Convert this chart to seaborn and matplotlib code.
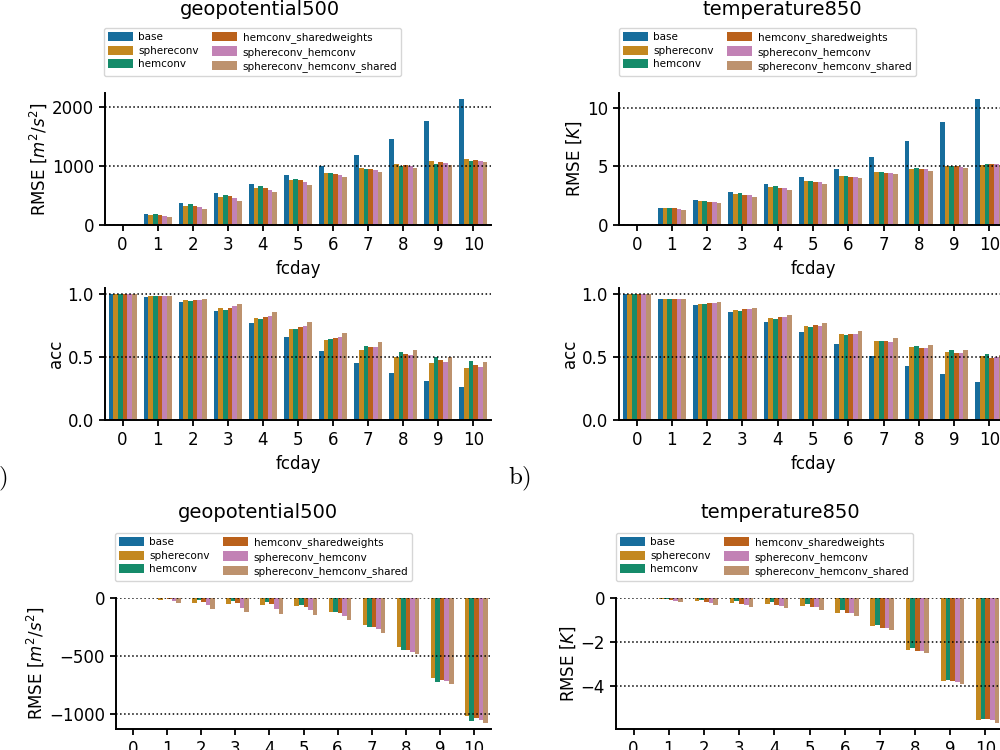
import numpy as np
import pandas as pd
import seaborn as sns
import matplotlib.pyplot as plt
from matplotlib.ticker import MultipleLocator

models = ["base", "sphereconv", "hemconv", "hemconv_sharedweights",
          "sphereconv_hemconv", "sphereconv_hemconv_shared"]
fcday = [0, 1, 2, 3, 4, 5, 6, 7, 8, 9, 10]

# one row per model (same order as `models`), one column per fcday
z500_rmse = [
    [0, 189, 366, 537, 697, 840, 1000, 1194, 1451, 1760, 2131],
    [0, 166, 326, 480, 634, 771, 874, 960, 1029, 1080, 1114],
    [0, 183, 349, 514, 663, 783, 874, 949, 1000, 1040, 1080],
    [0, 171, 326, 491, 634, 771, 869, 949, 1011, 1063, 1109],
    [0, 149, 297, 451, 600, 731, 840, 931, 994, 1046, 1091],
    [0, 137, 274, 411, 560, 686, 806, 897, 971, 1023, 1069],
]
z500_acc = [
    [1.0, 0.981, 0.939, 0.864, 0.768, 0.664, 0.549, 0.451, 0.373, 0.312, 0.259],
    [1.0, 0.984, 0.952, 0.891, 0.811, 0.720, 0.635, 0.560, 0.501, 0.453, 0.413],
    [1.0, 0.984, 0.944, 0.877, 0.800, 0.720, 0.648, 0.587, 0.539, 0.501, 0.469],
    [1.0, 0.984, 0.952, 0.893, 0.816, 0.736, 0.656, 0.584, 0.525, 0.477, 0.437],
    [1.0, 0.987, 0.957, 0.904, 0.829, 0.744, 0.659, 0.581, 0.515, 0.464, 0.424],
    [1.0, 0.987, 0.965, 0.923, 0.859, 0.779, 0.696, 0.621, 0.557, 0.504, 0.461],
]
t850_rmse = [
    [0, 1.49, 2.16, 2.84, 3.48, 4.11, 4.80, 5.80, 7.13, 8.76, 10.72],
    [0, 1.41, 2.01, 2.61, 3.22, 3.71, 4.14, 4.48, 4.77, 5.00, 5.14],
    [0, 1.47, 2.07, 2.70, 3.30, 3.79, 4.20, 4.54, 4.83, 5.00, 5.20],
    [0, 1.41, 1.98, 2.59, 3.16, 3.65, 4.11, 4.43, 4.74, 5.00, 5.23],
    [0, 1.38, 1.95, 2.56, 3.13, 3.65, 4.11, 4.45, 4.74, 4.97, 5.18],
    [0, 1.32, 1.87, 2.41, 3.02, 3.51, 3.97, 4.31, 4.63, 4.86, 5.10],
]
t850_acc = [
    [1.0, 0.960, 0.917, 0.856, 0.781, 0.699, 0.603, 0.509, 0.432, 0.365, 0.304],
    [1.0, 0.960, 0.925, 0.875, 0.811, 0.744, 0.683, 0.627, 0.581, 0.541, 0.507],
    [1.0, 0.960, 0.920, 0.867, 0.803, 0.736, 0.680, 0.627, 0.589, 0.557, 0.528],
    [1.0, 0.960, 0.928, 0.880, 0.819, 0.752, 0.685, 0.627, 0.576, 0.533, 0.496],
    [1.0, 0.963, 0.931, 0.880, 0.819, 0.749, 0.685, 0.624, 0.576, 0.533, 0.500],
    [1.0, 0.965, 0.939, 0.893, 0.837, 0.773, 0.709, 0.651, 0.597, 0.557, 0.520],
]
# RMSE difference to base
z500_diff = [
    [0, 0, 0, 0, 0, 0, 0, 0, 0, 0, 0],
    [0, -17, -40, -55, -57, -72, -118, -233, -425, -687, -1020],
    [0, -3, -14, -29, -34, -60, -121, -250, -451, -721, -1063],
    [0, -11, -34, -46, -55, -75, -129, -247, -445, -704, -1032],
    [0, -29, -63, -83, -92, -106, -155, -270, -463, -713, -1052],
    [0, -43, -95, -124, -138, -147, -193, -299, -480, -744, -1075],
]
t850_diff = [
    [0, 0, 0, 0, 0, 0, 0, 0, 0, 0, 0],
    [0, -0.06, -0.15, -0.21, -0.27, -0.37, -0.66, -1.28, -2.34, -3.77, -5.54],
    [0, -0.03, -0.08, -0.12, -0.18, -0.27, -0.56, -1.22, -2.27, -3.73, -5.48],
    [0, -0.08, -0.18, -0.26, -0.32, -0.41, -0.70, -1.34, -2.40, -3.77, -5.48],
    [0, -0.12, -0.23, -0.31, -0.34, -0.41, -0.70, -1.34, -2.38, -3.79, -5.54],
    [0, -0.17, -0.31, -0.41, -0.47, -0.56, -0.82, -1.45, -2.47, -3.91, -5.65],
]

W, H = 1000, 750
fig = plt.figure(figsize=(10, 7.5), dpi=100)


def to_long(values):
    rows = []
    for m, vals in zip(models, values):
        for d, v in zip(fcday, vals):
            rows.append({"fcday": d, "model": m, "value": v})
    return pd.DataFrame(rows)


def px_axes(left, top, width, bottom):
    # pixel box -> figure fraction
    return fig.add_axes([left / W, 1 - bottom / H, width / W, (bottom - top) / H])


def draw(ax, values, ylabel, step, legend_xy=None):
    sns.barplot(data=to_long(values), x="fcday", y="value", hue="model",
                hue_order=models, palette="colorblind", ax=ax, linewidth=0,
                legend=legend_xy is not None)
    ax.yaxis.set_major_locator(MultipleLocator(step))
    ax.grid(axis="y", ls=":", color="k", lw=1.1)
    ax.set_ylabel(ylabel, fontsize=12, labelpad=2)
    ax.set_xlabel("fcday", fontsize=12)
    ax.tick_params(labelsize=12, length=4.5, width=1.3)
    for s in ["left", "bottom"]:
        ax.spines[s].set_linewidth(1.4)
    sns.despine(ax=ax)
    if legend_xy is not None:
        leg = ax.get_legend()
        handles = leg.legend_handles
        leg.remove()
        ax.legend(handles, models, ncol=2, loc="upper left",
                  bbox_to_anchor=(legend_xy[0] / W, 1 - legend_xy[1] / H),
                  bbox_transform=fig.transFigure, borderaxespad=0,
                  fontsize=7.5, handlelength=2.4, handleheight=1.0,
                  handletextpad=0.5, columnspacing=1.3, labelspacing=0.3)


rmse_z = r"RMSE [$m^2/s^2$]"
rmse_t = r"RMSE [$K$]"

# a) top-left
ax = px_axes(105, 93, 386, 225)
draw(ax, z500_rmse, rmse_z, 1000, legend_xy=(104, 28))
ax = px_axes(105, 288, 386, 420)
draw(ax, z500_acc, "acc", 0.5)

# b) top-right
ax = px_axes(619, 93, 388, 225)
draw(ax, t850_rmse, rmse_t, 5, legend_xy=(619, 28))
ax = px_axes(619, 288, 388, 420)
draw(ax, t850_acc, "acc", 0.5)

# bottom row: difference to base
ax = px_axes(116, 598, 375, 729)
draw(ax, z500_diff, rmse_z, 500, legend_xy=(115, 533))
ax = px_axes(616, 598, 387, 729)
draw(ax, t850_diff, rmse_t, 2, legend_xy=(616, 533))

titles = [("geopotential500", 260, 15), ("temperature850", 782, 15),
          ("geopotential500", 258, 518), ("temperature850", 780, 518)]
for txt, x, y in titles:
    fig.text(x / W, 1 - y / H, txt, fontsize=14, ha="center", va="baseline")

fig.text(-14 / W, 1 - 484 / H, r"$\mathrm{a)}$", fontsize=18,
         math_fontfamily="cm", va="baseline")
fig.text(508 / W, 1 - 484 / H, r"$\mathrm{b)}$", fontsize=18,
         math_fontfamily="cm", va="baseline")

fig.savefig("out.png", dpi=100)
